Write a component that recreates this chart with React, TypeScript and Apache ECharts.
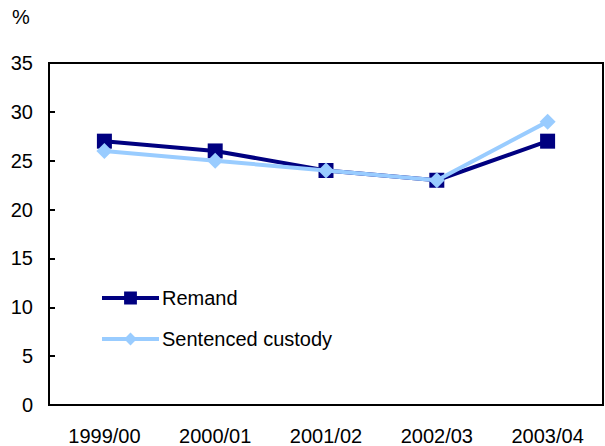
import React, { useEffect, useRef } from "react";
import * as echarts from "echarts";

const categories = ["1999/00", "2000/01", "2001/02", "2002/03", "2003/04"];
const remand = [27, 26, 24, 23, 27];
const sentencedCustody = [26, 25, 24, 23, 29];
const yTicks = { min: 0, max: 35, interval: 5 };

export default function App() {
  const ref = useRef<HTMLDivElement>(null);
  useEffect(() => {
    if (!ref.current) return;
    const chart = echarts.init(ref.current, null, { renderer: "svg" });
    const font = "'Liberation Sans', Arial, sans-serif";
    chart.setOption({
      animation: false,
      backgroundColor: "#ffffff",
      textStyle: { fontFamily: font },
      grid: { left: 49, right: 2, top: 63, bottom: 41, containLabel: false, show: true, borderColor: "#000", borderWidth: 2, backgroundColor: "transparent" },
      graphic: [
        { type: "text", left: 12, top: 7, style: { text: "%", font: `20px ${font}`, fill: "#000" } },
      ],
      legend: {
        orient: "vertical",
        left: 100,
        top: 288,
        padding: 0,
        itemWidth: 57,
        itemHeight: 16,
        itemGap: 21,
        lineStyle: { width: 4 },
        textStyle: { fontSize: 20, color: "#000", fontFamily: font, padding: [0, 0, 0, -2] },
        data: ["Remand", "Sentenced custody"],
      },
      xAxis: {
        type: "category",
        data: categories,
        boundaryGap: true,
        axisLine: { lineStyle: { color: "#000", width: 2 } },
        axisTick: { inside: true, length: 6, lineStyle: { color: "#000", width: 2 } },
        axisLabel: { color: "#000", fontSize: 20, fontFamily: font, margin: 21 },
      },
      yAxis: {
        type: "value",
        min: yTicks.min,
        max: yTicks.max,
        interval: yTicks.interval,
        axisLine: { show: true, lineStyle: { color: "#000", width: 2 } },
        axisTick: { show: true, inside: true, length: 6, lineStyle: { color: "#000", width: 2 } },
        axisLabel: { color: "#000", fontSize: 20, fontFamily: font, margin: 16 },
        splitLine: { show: false },
      },
      series: [
        {
          name: "Remand",
          type: "line",
          data: remand,
          color: "#000080",
          lineStyle: { width: 4, color: "#000080" },
          symbol: "rect",
          symbolSize: 15,
          itemStyle: { color: "#000080" },
          z: 2,
        },
        {
          name: "Sentenced custody",
          type: "line",
          data: sentencedCustody,
          color: "#99CCFF",
          lineStyle: { width: 4, color: "#99CCFF" },
          symbol: "diamond",
          symbolSize: 16,
          itemStyle: { color: "#99CCFF" },
          z: 3,
        },
      ],
    });
    return () => chart.dispose();
  }, []);
  return <div ref={ref} style={{ width: 605, height: 446, position: "absolute", left: 0, top: 0 }} />;
}
